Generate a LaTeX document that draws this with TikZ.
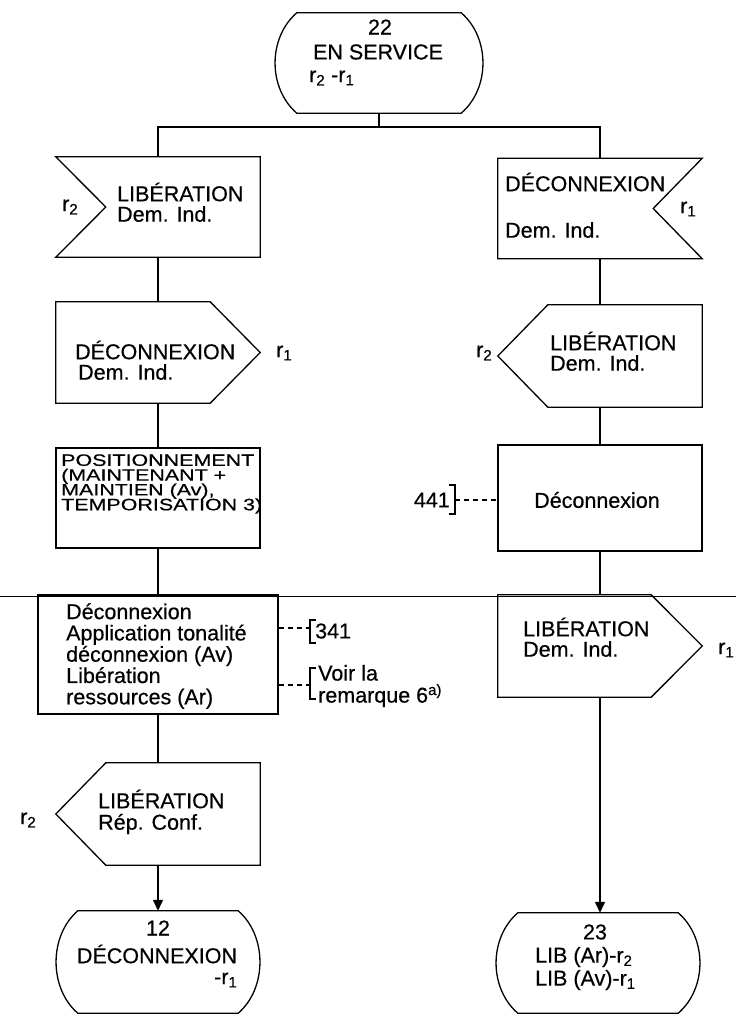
\documentclass[tikz,border=0pt]{standalone}
\usepackage{fontspec}
\setmainfont{Liberation Sans}[FakeBold=0.5]
\newfontfamily\widefont{Liberation Sans}[FakeStretch=1.3,FakeBold=0.5]
\usetikzlibrary{calc,arrows.meta}
\begin{document}
\begin{tikzpicture}[x=1pt,y=-1pt,
  every node/.style={font=\fontsize{21.5}{25}\selectfont, inner sep=0pt},
  frame/.style={shape=rectangle, minimum width=204pt, minimum height=100pt, inner sep=0pt},
  outline/.style={line width=1.3pt, line join=miter},
  conn/.style={line width=1.3pt},
  arr/.style={line width=1.3pt, -{Triangle[length=11pt,width=10pt]}},
  note/.style={line width=1.1pt, dash pattern=on 5pt off 4pt},
  brk/.style={line width=1.1pt},
  lbl/.style={anchor=west},
  blk/.style={anchor=west, align=left}
]
\useasboundingbox (0,0) rectangle (736,1014);

% ---------- frames ----------
\node[frame, minimum width=208pt] (t22) at (379,63) {};
\node[frame] (l1) at (158,207) {};
\node[frame] (r1) at (600,208.5) {};
\node[frame, minimum height=101pt] (l2) at (158,352.5) {};
\node[frame, minimum height=102pt] (r2) at (600,356) {};
\node[frame, draw, outline] (l3) at (158,498) {};
\node[frame, draw, outline, minimum height=106pt] (r3) at (600,498) {};
\node[frame, draw, outline, minimum width=240pt, minimum height=119pt] (l4) at (158,654.5) {};
\node[frame, minimum height=102pt] (r4) at (600,646) {};
\node[frame, minimum height=102pt] (l5) at (158,814) {};
\node[frame, minimum height=102pt] (t12) at (158,962) {};
\node[frame, minimum height=100pt] (t23) at (598,963) {};

% ---------- terminals ----------
\foreach \t in {t22,t12,t23}{
\draw[outline] ($(\t.north west)+(22,0)$) -- ($(\t.north east)+(-22,0)$)
  .. controls ($(\t.north east)+(7,25)$) and ($(\t.south east)+(7,-25)$) .. ($(\t.south east)+(-22,0)$)
  -- ($(\t.south west)+(22,0)$)
  .. controls ($(\t.south west)+(-7,-25)$) and ($(\t.north west)+(-7,25)$) .. cycle;
}

% ---------- signals ----------
\draw[outline] (l1.north west) -- (l1.north east) -- (l1.south east) -- (l1.south west) -- ($(l1.west)+(50,0)$) -- cycle;
\draw[outline] (r1.north west) -- (r1.north east) -- ($(r1.east)+(-49,0)$) -- (r1.south east) -- (r1.south west) -- cycle;
\draw[outline] (l2.north west) -- ($(l2.north east)+(-50,0)$) -- (l2.east) -- ($(l2.south east)+(-50,0)$) -- (l2.south west) -- cycle;
\draw[outline] ($(r2.north west)+(50,0)$) -- (r2.north east) -- (r2.south east) -- ($(r2.south west)+(50,0)$) -- (r2.west) -- cycle;
\draw[outline] (r4.north west) -- ($(r4.north east)+(-51,0)$) -- (r4.east) -- ($(r4.south east)+(-51,0)$) -- (r4.south west) -- cycle;
\draw[outline] ($(l5.north west)+(50,0)$) -- (l5.north east) -- (l5.south east) -- ($(l5.south west)+(50,0)$) -- (l5.west) -- cycle;

% ---------- page separation line ----------
\draw[line width=0.9pt] (0,596) -- (736,596);

% ---------- connectors ----------
\coordinate (split) at (379,127);
\draw[conn] (t22.south) -- (split);
\draw[conn] (split) -| (l1.north);
\draw[conn] (split) -| (r1.north);
\draw[conn] (l1.south) -- (l2.north);
\draw[conn] (l2.south) -- (l3.north);
\draw[conn] (l3.south) -- (l4.north);
\draw[conn] (l4.south) -- (l5.north);
\draw[arr] (l5.south) -- (t12.north);
\draw[conn] (r1.south) -- (r2.north);
\draw[conn] (r2.south) -- (r3.north);
\draw[conn] (r3.south) -- (r4.north);
\draw[arr] (r4.south) -- ($(t23.north)+(2,0)$);

% ---------- texts ----------
\node (x22) at (380,27) {22};
\node (xens) at (378,52) {EN SERVICE};
\node[lbl] (xr22) at (309,78) {r\textsubscript{2} -r\textsubscript{1}};

\node[lbl] (xl1a) at (117,192) {LIBÉRATION};
\node[lbl] (xl1b) at (117,214) {Dem. Ind.};
\node[lbl] (xl1r) at (62,207) {r\textsubscript{2}};

\node[lbl] (xr1a) at (505,182) {DÉCONNEXION};
\node[lbl] (xr1b) at (505,230) {Dem. Ind.};
\node[lbl] (xr1r) at (680,209) {r\textsubscript{1}};

\node[lbl] (xl2a) at (75,350) {DÉCONNEXION};
\node[lbl] (xl2b) at (78,372) {Dem. Ind.};
\node[lbl] (xl2r) at (276,353) {r\textsubscript{1}};

\node[lbl] (xr2a) at (550,341) {LIBÉRATION};
\node[lbl] (xr2b) at (550,363) {Dem. Ind.};
\node[lbl] (xr2r) at (476,353) {r\textsubscript{2}};

\node[blk, font={\widefont\fontsize{16.5}{14.8}\selectfont\lineskiplimit=-100pt}] (xl3) at (61,484)
  {POSITIONNEMENT\\(MAINTENANT +\\MAINTIEN (Av),\\TEMPORISATION 3)};

\node (xr3) at (597,500) {Déconnexion};
\node[anchor=east] (x441) at (450,500) {441};
\draw[brk] (449,485) -- (455,485) -- (455,514) -- (449,514);
\coordinate (b441) at (455,500);
\draw[note] (b441) -- (r3.west |- b441);

\node[blk, font={\fontsize{21.5}{21.3}\selectfont}] (xl4) at (66,656)
  {Déconnexion\\Application tonalité\\déconnexion (Av)\\Libération\\ressources (Ar)};
\coordinate (b341) at (310,628);
\draw[note] (l4.east |- b341) -- (b341);
\draw[brk] (316,620) -- (310,620) -- (310,643) -- (316,643);
\node[lbl] (x341) at (315,631) {341};
\coordinate (bvoir) at (310,685);
\draw[note] (l4.east |- bvoir) -- (bvoir);
\draw[brk] (316,668) -- (310,668) -- (310,699) -- (316,699);
\node[blk, font={\fontsize{21.5}{22}\selectfont}] (xvoir) at (318,686) {Voir la\\remarque 6\textsuperscript{a)}};

\node[lbl] (xr4a) at (523,627) {LIBÉRATION};
\node[lbl] (xr4b) at (523,649) {Dem. Ind.};
\node[lbl] (xr4r) at (718,650) {r\textsubscript{1}};

\node[lbl] (xl5a) at (98,799) {LIBÉRATION};
\node[lbl] (xl5b) at (98,824) {Rép. Conf.};
\node[lbl] (xl5r) at (20,820) {r\textsubscript{2}};

\node (x12) at (158,928) {12};
\node (x12b) at (157,954) {DÉCONNEXION};
\node[lbl] (x12r) at (214,980) {-r\textsubscript{1}};

\node (x23) at (595,932) {23};
\node[lbl] (x23a) at (535,957) {LIB (Ar)-r\textsubscript{2}};
\node[lbl] (x23b) at (535,980) {LIB (Av)-r\textsubscript{1}};
\end{tikzpicture}
\end{document}
